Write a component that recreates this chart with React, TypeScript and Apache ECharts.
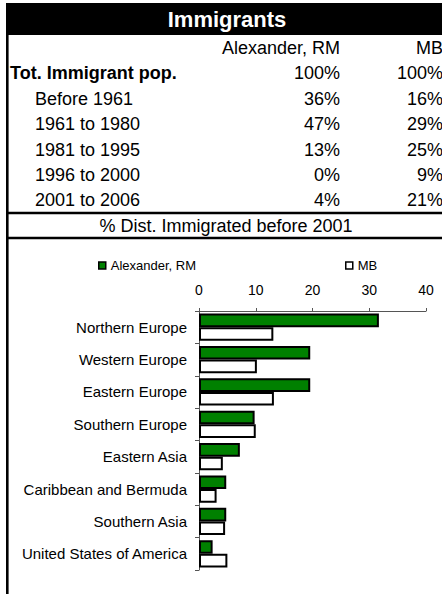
import React, { useEffect, useRef } from "react";
import * as echarts from "echarts";

const title = "Immigrants";
const columnNames = ["Alexander, RM", "MB"];
const totalLabel = "Tot. Immigrant pop.";
const totalValues = ["100%", "100%"];
const periodLabels = ["Before 1961", "1961 to 1980", "1981 to 1995", "1996 to 2000", "2001 to 2006"];
const alexanderPeriodPct = ["36%", "47%", "13%", "0%", "4%"];
const mbPeriodPct = ["16%", "29%", "25%", "9%", "21%"];
const chartTitle = "% Dist. Immigrated before 2001";

const regions = [
  "Northern Europe",
  "Western Europe",
  "Eastern Europe",
  "Southern Europe",
  "Eastern Asia",
  "Caribbean and Bermuda",
  "Southern Asia",
  "United States of America",
];
const alexanderDist = [31.7, 19.6, 19.6, 9.8, 7.2, 4.8, 4.8, 2.4];
const mbDist = [13.1, 10.2, 13.2, 10.0, 4.2, 3.1, 4.6, 5.0];
const xTicks = { min: 0, max: 40, interval: 10 };

const FONT = "'Liberation Sans', Arial, sans-serif";

export default function App() {
  const ref = useRef<HTMLDivElement>(null);
  useEffect(() => {
    if (!ref.current) return;
    const chart = echarts.init(ref.current, undefined, { renderer: "svg" });

    const rowH = 25.4;
    const row0 = 48;
    const colA = 340;
    const colB = 443;
    const txt = (text: string, x: number, y: number, align: string, bold = false, size = 18, fill = "#000") => ({
      type: "text",
      x,
      y,
      style: { text, fill, font: `${bold ? "bold " : ""}${size}px ${FONT}`, textAlign: align, textVerticalAlign: "middle" },
    });

    const graphics: any[] = [];
    graphics.push({ type: "rect", shape: { x: 6, y: 3, width: 436, height: 32 }, style: { fill: "#000" } });
    graphics.push(txt(title, 227, 19, "center", true, 22, "#fff"));
    graphics.push({ type: "line", shape: { x1: 7.3, y1: 35, x2: 7.3, y2: 594 }, style: { stroke: "#000", lineWidth: 2.6 } });
    graphics.push(txt(columnNames[0], colA, row0, "right"));
    graphics.push(txt(columnNames[1], colB, row0, "right"));
    graphics.push(txt(totalLabel, 10, row0 + rowH, "left", true));
    graphics.push(txt(totalValues[0], colA, row0 + rowH, "right"));
    graphics.push(txt(totalValues[1], colB, row0 + rowH, "right"));
    periodLabels.forEach((p, i) => {
      const y = row0 + rowH * (i + 2);
      graphics.push(txt(p, 35, y, "left"));
      graphics.push(txt(alexanderPeriodPct[i], colA, y, "right"));
      graphics.push(txt(mbPeriodPct[i], colB, y, "right"));
    });
    graphics.push({ type: "line", shape: { x1: 8, y1: 213, x2: 442, y2: 213 }, style: { stroke: "#000", lineWidth: 2.5 } });
    graphics.push(txt(chartTitle, 226, 225.5, "center"));
    graphics.push({ type: "line", shape: { x1: 8, y1: 238, x2: 442, y2: 238 }, style: { stroke: "#000", lineWidth: 2.5 } });

    chart.setOption({
      animation: false,
      textStyle: { fontFamily: FONT },
      graphic: graphics,
      legend: {
        left: 93,
        top: 254,
        itemWidth: 7,
        itemHeight: 7,
        itemGap: 149,
        icon: "rect",
        textStyle: { fontSize: 13, color: "#000", fontFamily: FONT },
        itemStyle: { borderColor: "#000", borderWidth: 1.5 },
        data: columnNames,
      },
      grid: { left: 199, right: 16, top: 311, bottom: 24 },
      xAxis: {
        type: "value",
        position: "top",
        min: xTicks.min,
        max: xTicks.max,
        interval: xTicks.interval,
        splitLine: { show: false },
        axisLine: { show: true, lineStyle: { color: "#555", width: 1 } },
        axisTick: { show: true, length: 3, lineStyle: { color: "#555" } },
        axisLabel: { fontSize: 14, color: "#000", margin: 14, fontFamily: FONT },
      },
      yAxis: {
        type: "category",
        inverse: true,
        data: regions,
        axisLine: { show: true, lineStyle: { color: "#555", width: 1 } },
        axisTick: { show: true, length: 4, lineStyle: { color: "#555" } },
        axisLabel: { fontSize: 15, color: "#000", margin: 12, fontFamily: FONT },
      },
      series: [
        {
          name: columnNames[0],
          type: "bar",
          data: alexanderDist,
          barGap: "0%",
          barCategoryGap: "16%",
          itemStyle: { color: "#008000", borderColor: "#000", borderWidth: 2 },
        },
        {
          name: columnNames[1],
          type: "bar",
          data: mbDist,
          barGap: "0%",
          barCategoryGap: "16%",
          itemStyle: { color: "#fff", borderColor: "#000", borderWidth: 2 },
        },
      ],
    });
    return () => chart.dispose();
  }, []);
  return <div ref={ref} style={{ position: "fixed", left: 0, top: 0, width: 442, height: 594, background: "#fff" }} />;
}
